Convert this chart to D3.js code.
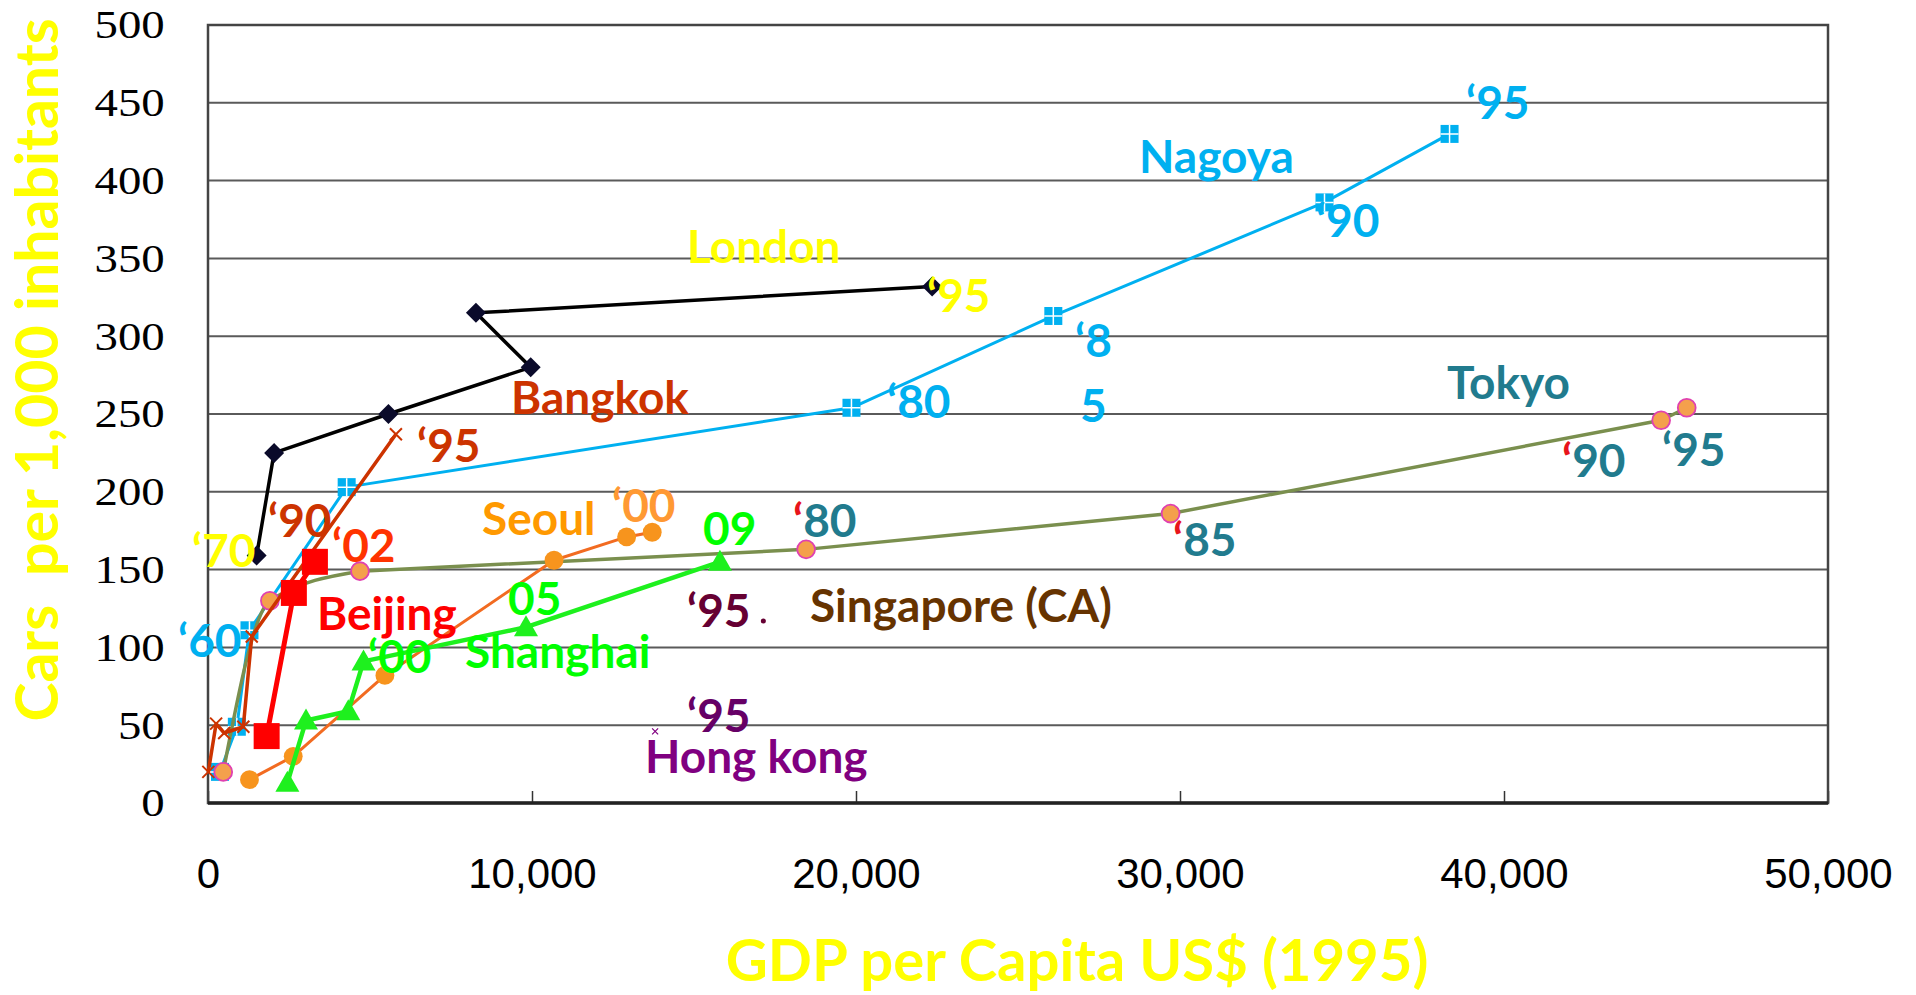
<!DOCTYPE html>
<html>
<head>
<meta charset="utf-8">
<script src="https://cdn.jsdelivr.net/npm/d3@7"></script>
<style>
  body { margin: 0; background: #fff; }
  text { font-family: Lato, "Open Sans", sans-serif; font-weight: bold; }
</style>
</head>
<body>
<script>
var W = 1916, H = 995;
var margin = {top: 25, left: 208, right: 88, bottom: 192};
var width = W - margin.left - margin.right;
var height = H - margin.top - margin.bottom;

// ------- data: [GDP per capita, cars per 1000] -------
var london   = [[1500,159],[2040,225],[5570,250],[9960,280],[8270,315],[22350,332]];
var nagoya   = [[370,20],[890,49],[1280,111],[4280,203],[19860,254],[26090,313],[34460,386],[38320,430]];
var bangkok  = [[10,20],[250,51],[500,45],[1090,49],[1350,107],[5800,237]];
var tokyo    = [[470,20],[1910,130],[4690,149],[18460,163],[29710,186],[44850,246],[45640,254]];
var seoul    = [[1280,15],[2630,30],[5460,82],[10680,156],[12920,171],[13710,174]];
var shanghai = [[2450,13],[3025,53],[4330,59],[4800,91],[9815,113],[15800,155]];
var beijing  = [[1810,43],[2650,135],[3300,155]];
var singapore = [[17140,117]];
var hongkong  = [[13800,46]];

var xTicks = [0, 10000, 20000, 30000, 40000, 50000];
var yTicks = [0, 50, 100, 150, 200, 250, 300, 350, 400, 450, 500];

// labels: [x, y, text, colour, quoteColour]
var labels = [
  [14784, 347, 'London', '#FFFF00'],
  [22191, 315.6, '\u201895', '#FFFF00'],
  [28735, 404.9, 'Nagoya', '#00B0F0'],
  [38827, 439.6, '\u201895', '#00B0F0'],
  [34197, 363.8, '\u201890', '#00B0F0'],
  [26759, 286.6, '\u20188', '#00B0F0'],
  [26914, 244.9, '5', '#00B0F0'],
  [20957, 247.4, '\u201880', '#00B0F0'],
  [-926, 93.8, '\u201860', '#00B0F0'],
  [-494, 151.7, '\u201870', '#FFFF00'],
  [1852, 171, '\u201890', '#CC3300'],
  [3827, 154.9, '\u201802', '#FF3300'],
  [6451, 219.2, '\u201895', '#CC3300'],
  [9352, 250, 'Bangkok', '#CC3300'],
  [3364, 111.2, 'Beijing', '#FF0000'],
  [4938, 83.5, '\u201800', '#00FF00'],
  [7932, 86.8, 'Shanghai', '#00FF00'],
  [9259, 120.8, '05', '#00FF00'],
  [15278, 165.8, '09', '#00FF00'],
  [8457, 172.2, 'Seoul', '#FF9900'],
  [12469, 180.6, '\u201800', '#FF9933'],
  [18055, 171, '80', '#217B8E', '#E8141B'],
  [14784, 113.1, '\u201895', '#660033'],
  [18580, 116.3, 'Singapore (CA)', '#663300'],
  [14784, 45.6, '\u201895', '#660066'],
  [13488, 19.3, 'Hong kong', '#800080'],
  [29784, 158.7, '85', '#217B8E', '#E8141B'],
  [38241, 259.6, 'Tokyo', '#217B8E'],
  [41790, 209.5, '90', '#217B8E', '#E8141B'],
  [44877, 216.6, '\u201895', '#217B8E']
];

var svg = d3.select('body')
    .append('svg')
    .attr('width', W)
    .attr('height', H);

var g = svg.append('g')
    .attr('transform', 'translate(' + margin.left + ',' + margin.top + ')');

var x = d3.scaleLinear().domain([0, 50000]).range([0, width]);
var y = d3.scaleLinear().domain([0, 500]).range([height, 0]);

// grid
g.selectAll('line.grid')
    .data(yTicks)
    .enter()
    .append('line')
    .attr('class', 'grid')
    .attr('x1', 0)
    .attr('x2', width)
    .attr('y1', function(d) { return y(d); })
    .attr('y2', function(d) { return y(d); })
    .attr('stroke', '#5a5a5a')
    .attr('stroke-width', 2);

// axes
var xAxis = g.append('g')
    .attr('transform', 'translate(0,' + height + ')')
    .call(d3.axisBottom(x).tickValues(xTicks).tickFormat(d3.format(','))
        .tickSizeInner(-12).tickSizeOuter(0).tickPadding(55));
xAxis.select('.domain').remove();
xAxis.selectAll('line').attr('stroke', '#333').attr('stroke-width', 1.5);
xAxis.selectAll('text')
    .style('font-family', '"Liberation Sans", Arial, sans-serif')
    .style('font-weight', 'normal')
    .style('font-size', '42px')
    .attr('fill', '#000');

var yAxis = g.append('g')
    .call(d3.axisLeft(y).tickValues(yTicks).tickSize(0).tickPadding(37));
yAxis.select('.domain').remove();
yAxis.selectAll('text')
    .style('font-family', '"Liberation Serif", "Times New Roman", serif')
    .style('font-weight', 'normal')
    .style('font-size', '40px')
    .attr('transform', 'scale(1.17,1)')
    .attr('fill', '#000');

// border
g.append('rect')
    .attr('x', 0).attr('y', 0)
    .attr('width', width).attr('height', height)
    .attr('fill', 'none')
    .attr('stroke', '#444')
    .attr('stroke-width', 2.5);
g.append('line')
    .attr('x1', 0).attr('x2', width)
    .attr('y1', height).attr('y2', height)
    .attr('stroke', '#222')
    .attr('stroke-width', 3.5);

var line = d3.line()
    .x(function(d) { return x(d[0]); })
    .y(function(d) { return y(d[1]); });

function drawLine(data, colour, w, curve) {
    g.append('path')
        .datum(data)
        .attr('fill', 'none')
        .attr('stroke', colour)
        .attr('stroke-width', w)
        .attr('stroke-linejoin', 'round')
        .attr('d', line.curve(curve || d3.curveLinear)(data));
}

function drawSymbols(data, path, fill, stroke, sw) {
    g.selectAll(null)
        .data(data)
        .enter()
        .append('path')
        .attr('transform', function(d) { return 'translate(' + x(d[0]) + ',' + y(d[1]) + ')'; })
        .attr('d', path)
        .attr('fill', fill)
        .attr('stroke', stroke)
        .attr('stroke-width', sw || 0);
}

var sqPath = 'M-9,-9H9V9H-9Z';
var crossPath = 'M0,-9V9M-9,0H9';
var diamondPath = 'M0,-10L10,0L0,10L-10,0Z';
var xPath = 'M-6,-6L6,6M-6,6L6,-6';
var bigSq = 'M-13,-13H13V13H-13Z';
var triPath = 'M0,-12L12,9L-12,9Z';

// Nagoya
drawLine(nagoya, '#00B0F0', 3);
drawSymbols(nagoya, sqPath, '#00B0F0', 'none');
drawSymbols(nagoya, crossPath, 'none', '#fff', 1.5);

// Tokyo: smooth near the origin, straight afterwards
drawLine(tokyo.slice(0, 3), '#7A8F4E', 3.5, d3.curveMonotoneX);
drawLine(tokyo.slice(2), '#7A8F4E', 3.5);
drawSymbols(tokyo, d3.symbol().type(d3.symbolCircle).size(250)(), '#F4A04C', '#E040B0', 1.8);

// Bangkok
drawLine(bangkok, '#CC3300', 3.5);
drawSymbols(bangkok, xPath, 'none', '#CC3300', 2);

// London
drawLine(london, '#000', 3.5);
drawSymbols(london, diamondPath, '#0a0a2a', 'none');

// Seoul
drawLine(seoul, '#F26B21', 3);
drawSymbols(seoul, d3.symbol().type(d3.symbolCircle).size(280)(), '#F7941D', 'none');

// Shanghai
drawLine(shanghai, '#1EF01E', 4.5);
drawSymbols(shanghai, triPath, '#1EF01E', 'none');

// Beijing
drawLine(beijing, '#FF0000', 5);
drawSymbols(beijing, bigSq, '#FF0000', 'none');

// Singapore & Hong Kong single points
drawSymbols(singapore, d3.symbol().type(d3.symbolCircle).size(20)(), '#660033', 'none');
drawSymbols(hongkong, 'M-3,-3L3,3M-3,3L3,-3', 'none', '#800080', 1.2);

// labels
var lab = g.selectAll('text.lab')
    .data(labels)
    .enter()
    .append('text')
    .attr('class', 'lab')
    .attr('x', function(d) { return x(d[0]); })
    .attr('y', function(d) { return y(d[1]); })
    .style('font-size', '46px')
    .attr('fill', function(d) { return d[3]; });
lab.each(function(d) {
    var t = d3.select(this);
    if (d[4]) {
        t.append('tspan').attr('fill', d[4]).text('\u2018');
        t.append('tspan').text(d[2]);
    } else {
        t.text(d[2]);
    }
});

// axis titles
svg.append('text')
    .attr('x', 1077)
    .attr('y', 981)
    .attr('text-anchor', 'middle')
    .attr('fill', '#FFFF00')
    .style('font-size', '58px')
    .text('GDP per Capita US$ (1995)');

svg.append('text')
    .attr('transform', 'translate(58,370) rotate(-90)')
    .attr('text-anchor', 'middle')
    .attr('fill', '#FFFF00')
    .style('font-size', '59px')
    .style('white-space', 'pre')
    .text('Cars  per 1,000 inhabitants');
</script>
</body>
</html>
